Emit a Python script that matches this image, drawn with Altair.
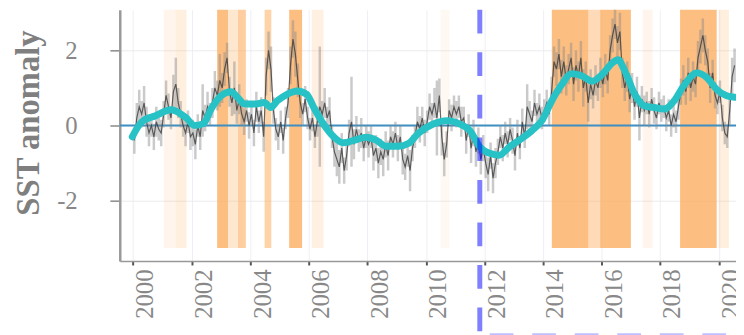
import altair as alt
import pandas as pd

# ---- monthly SST anomaly (centre values) ----
v2000 = [-0.4, 0.2, 0.5, 0.3, 0.6, 0.1, -0.2, 0.0, -0.3, 0.1, -0.1, -0.2]
v2001 = [0.3, 0.8, 0.5, 0.2, 0.9, 1.1, 0.6, 0.3, 0.0, -0.2, 0.1, -0.3]
v2002 = [-0.2, -0.5, 0.0, -0.3, 0.4, 0.2, 0.5, 0.3, 0.6, 1.0, 0.8, 1.2]
v2003 = [1.0, 1.5, 1.8, 0.9, 0.6, 1.0, 0.4, 0.7, 0.3, 0.1, 0.4, 0.0]
v2004 = [0.3, -0.2, 0.5, 0.1, 0.4, -0.3, 1.3, 2.0, 1.5, 0.4, -0.1, -0.3]
v2005 = [0.1, -0.4, 0.2, 0.6, 1.6, 2.3, 1.9, 1.2, 0.6, 0.3, 0.7, 0.2]
v2006 = [-0.1, 0.2, -0.3, 0.1, 0.5, 0.3, 0.6, 0.2, 0.4, -0.3, -0.7, -0.9]
v2007 = [-1.1, -0.6, -1.2, -0.8, -0.2, 0.1, -0.5, -0.1, -0.4, -0.2, -0.6, -0.3]
v2008 = [-0.5, -0.3, -0.8, -0.6, -1.0, -0.7, -0.9, -0.5, -0.8, -0.3, -0.5, -0.2]
v2009 = [-0.6, -0.3, -0.9, -1.1, -0.8, -1.2, -0.6, -0.3, 0.1, -0.1, 0.2, -0.2]
v2010 = [0.1, 0.5, 0.3, 0.6, 0.2, 0.8, -0.3, -0.9, -0.5, 0.4, 0.2, 0.5]
v2011 = [0.3, 0.5, 0.1, 0.2, -0.4, 0.0, -0.6, -0.2, -0.7, -0.4, -0.9, -0.6]
v2012 = [-1.0, -1.3, -0.8, -1.4, -1.0, -0.7, -0.3, -0.6, -0.2, -0.5, -0.1, -0.4]
v2013 = [-0.8, -0.2, -0.6, 0.1, -0.3, 0.5, 0.3, 0.1, 0.6, 0.3, 0.5, 0.2]
v2014 = [0.4, 0.6, 0.3, 0.9, 1.7, 1.5, 1.9, 1.3, 1.7, 1.2, 1.5, 1.8]
v2015 = [1.1, 1.6, 1.3, 1.8, 1.0, 1.3, 0.6, 1.1, 0.8, 1.2, 1.0, 1.4]
v2016 = [1.1, 1.5, 1.2, 2.0, 2.4, 2.7, 2.2, 2.5, 1.4, 1.0, 1.3, 0.7]
v2017 = [1.0, 0.5, 0.9, 0.2, 0.7, 0.4, 0.6, 0.3, 0.7, 0.4, 0.2, 0.6]
v2018 = [0.4, 0.5, 0.2, 0.4, 0.0, 0.3, 0.1, 0.5, 0.9, 1.2, 0.9, 1.4]
v2019 = [1.0, 1.3, 1.1, 1.8, 2.1, 2.4, 2.0, 1.7, 1.0, 1.4, 0.8, 0.6]
v2020 = [0.9, 0.2, -0.2, -0.3, 0.4, 1.3, 1.6]

# ---- error half-widths ----
e2000 = [0.35, 0.4, 0.45, 0.35, 0.45, 0.4, 0.35, 0.3, 0.35, 0.4, 0.3, 0.35]
e2001 = [0.35, 0.4, 0.35, 0.3, 0.45, 0.7, 0.4, 0.35, 0.3, 0.35, 0.3, 0.35]
e2002 = [0.35, 0.4, 0.3, 0.35, 0.7, 0.35, 0.4, 0.3, 0.4, 0.45, 0.4, 0.7]
e2003 = [0.4, 0.45, 0.4, 0.4, 0.35, 0.7, 0.35, 0.4, 0.3, 0.35, 0.3, 0.35]
e2004 = [0.3, 0.35, 0.4, 0.3, 0.35, 0.4, 0.5, 0.5, 0.6, 0.35, 0.3, 0.35]
e2005 = [0.3, 0.35, 0.3, 0.4, 0.5, 0.5, 0.6, 0.45, 0.4, 0.3, 0.35, 0.3]
e2006 = [0.3, 0.35, 0.3, 0.4, 1.6, 0.35, 0.4, 0.3, 0.35, 0.3, 0.4, 0.45]
e2007 = [0.45, 0.4, 0.35, 0.4, 0.35, 1.2, 0.4, 0.35, 0.3, 0.4, 0.35, 0.3]
e2008 = [0.35, 0.3, 0.4, 0.35, 0.4, 0.35, 0.45, 0.35, 0.4, 0.3, 0.35, 0.3]
e2009 = [0.35, 0.3, 0.4, 0.35, 0.3, 0.55, 0.35, 0.3, 0.4, 0.35, 0.3, 0.35]
e2010 = [0.3, 0.35, 0.3, 0.4, 1.0, 0.45, 0.5, 0.45, 0.35, 0.3, 0.35, 0.3]
e2011 = [0.35, 0.3, 0.4, 0.3, 0.35, 0.3, 0.4, 0.35, 0.4, 0.35, 0.4, 0.35]
e2012 = [0.4, 0.45, 0.35, 0.4, 0.4, 0.35, 0.3, 0.35, 0.3, 0.35, 0.3, 0.35]
e2013 = [0.4, 0.35, 0.3, 0.35, 0.3, 0.6, 0.35, 0.3, 0.35, 0.3, 0.35, 0.3]
e2014 = [0.3, 0.35, 0.3, 0.4, 0.4, 0.45, 0.4, 0.45, 0.4, 0.4, 0.4, 0.4]
e2015 = [0.45, 0.4, 0.4, 0.45, 0.5, 0.4, 0.5, 0.4, 0.35, 0.4, 0.35, 0.4]
e2016 = [0.35, 0.4, 0.35, 0.4, 0.45, 0.4, 0.45, 0.5, 0.4, 0.35, 0.4, 0.35]
e2017 = [0.4, 0.35, 0.4, 0.6, 0.35, 0.4, 0.3, 0.35, 0.3, 0.35, 0.3, 0.3]
e2018 = [0.3, 0.3, 0.35, 0.3, 0.3, 0.35, 0.3, 0.35, 0.35, 0.4, 0.35, 0.4]
e2019 = [0.35, 0.4, 0.35, 0.45, 0.45, 0.45, 0.4, 0.35, 0.4, 0.35, 0.35, 0.3]
e2020 = [0.3, 0.35, 0.3, 0.3, 0.4, 0.5, 0.45]

# ---- smoothed anomaly ----
smooth_t = [1999.97, 2000.3, 2000.77, 2001.3, 2001.8, 2002.1, 2002.4, 2002.67, 2003.0,
            2003.34, 2003.58, 2003.8, 2004.15, 2004.48, 2004.7, 2004.93, 2005.26, 2005.6,
            2005.93, 2006.17, 2006.5, 2006.85, 2007.18, 2007.6, 2007.96, 2008.3, 2008.63,
            2009.07, 2009.4, 2009.75, 2010.25, 2010.72, 2011.16, 2011.5, 2011.84, 2012.18,
            2012.5, 2012.85, 2013.19, 2013.63, 2013.96, 2014.3, 2014.64, 2014.97, 2015.35,
            2015.68, 2016.02, 2016.36, 2016.56, 2016.8, 2017.13, 2017.47, 2017.8, 2018.14,
            2018.48, 2018.8, 2019.25, 2019.6, 2019.93, 2020.27, 2020.55]
smooth_v = [-0.3, 0.1, 0.26, 0.42, 0.21, 0.0, 0.05, 0.45, 0.79,
            0.9, 0.74, 0.57, 0.57, 0.61, 0.48, 0.66, 0.83, 0.92,
            0.83, 0.48, 0.04, -0.3, -0.46, -0.38, -0.31, -0.39, -0.55,
            -0.55, -0.48, -0.2, 0.04, 0.13, 0.04, -0.13, -0.57, -0.74,
            -0.79, -0.57, -0.39, -0.13, 0.13, 0.66, 1.09, 1.38, 1.31,
            1.18, 1.36, 1.66, 1.75, 1.44, 0.83, 0.52, 0.48, 0.44,
            0.66, 1.05, 1.4, 1.27, 0.96, 0.79, 0.75]

# ---- heat-wave bands (start, end, intensity) ----
band_start = [2001.05, 2001.45, 2002.87, 2003.24, 2003.58, 2004.49, 2005.33, 2006.1,
              2010.5, 2014.30, 2015.55, 2015.95, 2017.4, 2018.68, 2020.0]
band_end = [2001.45, 2001.82, 2003.24, 2003.58, 2003.85, 2004.72, 2005.77, 2006.5,
            2010.8, 2015.55, 2015.95, 2017.0, 2017.74, 2019.93, 2020.35]
band_alpha = [0.12, 0.2, 0.8, 0.3, 0.6, 0.55, 0.8, 0.18,
              0.07, 0.8, 0.45, 0.8, 0.12, 0.8, 0.2]

breakpoint = [2011.84]
x_ticks = list(range(2000, 2021, 2))
y_ticks = [-2, 0, 2]

vals = [v2000, v2001, v2002, v2003, v2004, v2005, v2006, v2007, v2008, v2009, v2010,
        v2011, v2012, v2013, v2014, v2015, v2016, v2017, v2018, v2019, v2020]
errs = [e2000, e2001, e2002, e2003, e2004, e2005, e2006, e2007, e2008, e2009, e2010,
        e2011, e2012, e2013, e2014, e2015, e2016, e2017, e2018, e2019, e2020]
rows = []
for i, (vy, ey) in enumerate(zip(vals, errs)):
    for m, (v, e) in enumerate(zip(vy, ey)):
        rows.append({"t": 2000 + i + (m + 0.5) / 12, "v": v, "lo": v - e, "hi": v + e})
df = pd.DataFrame(rows)
sm_df = pd.DataFrame({"t": smooth_t, "v": smooth_v})
band_df = pd.DataFrame({"s": band_start, "e": band_end, "a": band_alpha})
bp_df = pd.DataFrame({"t": breakpoint, "t2": [2020.59]})

FONT = "Liberation Serif"
xs = alt.Scale(domain=[1999.544, 2020.59], nice=False, zero=False)
ys = alt.Scale(domain=[-3.605, 3.079], nice=False, zero=False)
xaxis = alt.Axis(values=x_ticks, format="d", title=None, labelAngle=-90,
                 labelFont=FONT, labelFontSize=25, labelColor="#888888",
                 labelOffset=12, labelPadding=4,
                 tickColor="#555555", tickSize=4, tickWidth=2,
                 domainColor="#999999", domainWidth=1.5,
                 grid=True, gridColor="#eeeef6", gridWidth=1)
yaxis = alt.Axis(values=y_ticks, title="SST anomaly", labelFont=FONT, labelFontSize=25,
                 labelExpr="toString(datum.value)",
                 labelColor="#888888", labelPadding=33,
                 tickColor="#888888", tickSize=10, tickWidth=1.5,
                 domainColor="#999999", domainWidth=2.5,
                 grid=True, gridColor="#ebebeb", gridWidth=1,
                 titleFont=FONT, titleFontSize=33, titleFontWeight="bold",
                 titleColor="#7f7f7f", titleX=-82, titleY=114,
                 titleAngle=-90, titleAlign="center", titleBaseline="alphabetic")

bands = alt.Chart(band_df).mark_rect(color="#fdae61", clip=True).encode(
    x=alt.X("s:Q", scale=xs, axis=xaxis), x2="e:Q",
    y=alt.Y(datum=-3.26, scale=ys, axis=yaxis), y2=alt.datum(3.4),
    opacity=alt.Opacity("a:Q", scale=None, legend=None))

zero = alt.Chart(bp_df).mark_rule(color="#3f8fc2", strokeWidth=2).encode(
    y=alt.Y(datum=0, scale=ys, axis=yaxis))

err = alt.Chart(df).mark_rule(color="#8a8a8a", strokeWidth=2.5, opacity=0.45, clip=True).encode(
    x=alt.X("t:Q", scale=xs, axis=xaxis),
    y=alt.Y("lo:Q", scale=ys, axis=yaxis), y2="hi:Q")

line = alt.Chart(df).mark_line(color="#333333", strokeWidth=1.2, opacity=0.75, clip=True).encode(
    x=alt.X("t:Q", scale=xs, axis=xaxis),
    y=alt.Y("v:Q", scale=ys, axis=yaxis))

smooth = alt.Chart(sm_df).mark_line(color="#27c2c6", strokeWidth=7, strokeCap="round",
                                    strokeJoin="round", interpolate="monotone", clip=True).encode(
    x=alt.X("t:Q", scale=xs, axis=xaxis),
    y=alt.Y("v:Q", scale=ys, axis=yaxis))

vdash = alt.Chart(bp_df).mark_rule(color="#0000ff", opacity=0.5, strokeWidth=5,
                                   strokeDash=[24, 19]).encode(
    x=alt.X("t:Q", scale=xs, axis=xaxis), y=alt.value(0), y2=alt.value(330))

hdash = alt.Chart(bp_df).mark_rule(color="#0000ff", opacity=0.25, strokeWidth=4,
                                   strokeDash=[24, 19], strokeDashOffset=-10).encode(
    x=alt.X("t:Q", scale=xs, axis=xaxis), x2="t2:Q", y=alt.value(329))

chart = alt.layer(bands, zero, err, line, smooth, vdash, hdash).properties(
    width=623, height=254,
    autosize=alt.AutoSizeParams(type="none"),
    padding={"left": 113, "top": 0, "right": 0, "bottom": 73},
    background="white",
).configure_view(stroke=None)

chart.save("out.html", embed_options={"renderer": "svg", "actions": False})
